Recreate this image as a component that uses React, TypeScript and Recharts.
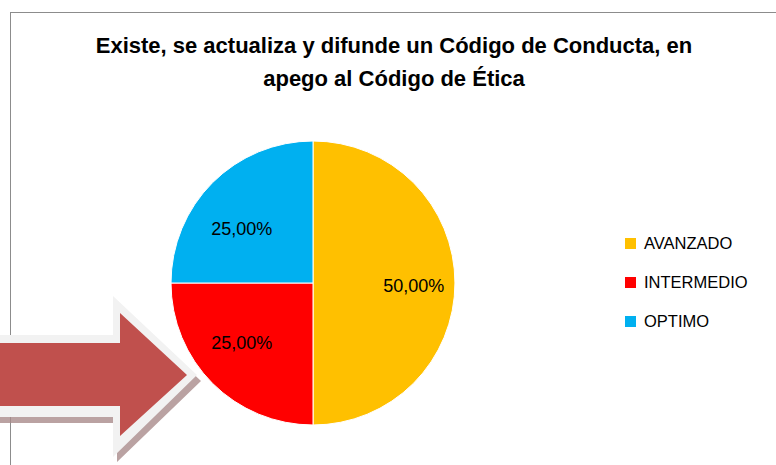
import { PieChart, Pie, Cell, Legend } from 'recharts'

const categories = ['AVANZADO', 'INTERMEDIO', 'OPTIMO']
const shares = [50, 25, 25]
const colors = ['#FFC000', '#FF0000', '#00B0F0']
const titleLines = ['Existe, se actualiza y difunde un Código de Conducta, en', 'apego al Código de Ética']

const data = categories.map((name, i) => ({ name, value: shares[i] }))

const FONT = "'Liberation Sans', Arial, sans-serif"
const RADIAN = Math.PI / 180

function renderLabel(props: any) {
  const { cx, cy, midAngle, outerRadius, value } = props
  const x = cx + outerRadius * 0.71 * Math.cos(-midAngle * RADIAN)
  const y = cy + 3 + outerRadius * 0.57 * Math.sin(-midAngle * RADIAN)
  return (
    <text
      x={x}
      y={y}
      fill="#000"
      fontSize={18}
      fontFamily={FONT}
      textAnchor="middle"
      dominantBaseline="central"
    >
      {value.toFixed(2).replace('.', ',')}%
    </text>
  )
}

function LegendBox() {
  return (
    <div style={{ fontFamily: FONT, fontSize: 16.5, color: '#000' }}>
      {data.map((d, i) => (
        <div key={d.name} style={{ display: 'flex', alignItems: 'center', height: 39 }}>
          <span
            style={{ width: 11, height: 11, background: colors[i], marginRight: 8, display: 'inline-block' }}
          />
          {d.name}
        </div>
      ))}
    </div>
  )
}

function Arrow() {
  return (
    <svg width={776} height={465} style={{ position: 'absolute', left: 0, top: 0, pointerEvents: 'none' }}>
      {/* shadow */}
      <polygon
        points="-10,341 117,341 117,302 201,381 117,462 117,423 -10,423"
        fill="#a98b8b"
        opacity={0.8}
      />
      {/* light outline */}
      <polygon
        points="-10,335 113,335 113,296 197,375 113,457 113,417 -10,417"
        fill="#F2F2F2"
      />
      <polygon
        points="-10,343 120,343 120,313 187,375 120,436 120,406 -10,406"
        fill="#C0504D"
      />
    </svg>
  )
}

export default function App() {
  return (
    <div style={{ position: 'fixed', left: 0, top: 0, width: 776, height: 465, background: '#fff' }}>
      <div
        style={{
          position: 'absolute',
          left: 10,
          top: 12,
          right: 0,
          bottom: 0,
          borderLeft: '1px solid #8c8c8c',
          borderTop: '1px solid #8c8c8c',
        }}
      />
      <svg width={776} height={120} style={{ position: 'absolute', left: 0, top: 0 }}>
        {titleLines.map((t, i) => (
          <text
            key={i}
            x={394}
            y={53 + i * 33}
            textAnchor="middle"
            fontFamily={FONT}
            fontWeight="bold"
            fontSize={22}
            fill="#000"
          >
            {t}
          </text>
        ))}
      </svg>
      <div style={{ position: 'absolute', left: 0, top: 0 }}>
        <PieChart width={776} height={465}>
          <Pie
            data={data}
            dataKey="value"
            nameKey="name"
            cx={308}
            cy={278}
            outerRadius={142}
            startAngle={90}
            endAngle={-270}
            stroke="#fff"
            strokeWidth={1}
            label={renderLabel}
            labelLine={false}
            isAnimationActive={false}
          >
            {data.map((d, i) => (
              <Cell key={d.name} fill={colors[i]} />
            ))}
          </Pie>
          <Legend
            layout="vertical"
            content={() => <LegendBox />}
            wrapperStyle={{ left: 625, top: 224, width: 150 }}
          />
        </PieChart>
      </div>
      <Arrow />
    </div>
  )
}
